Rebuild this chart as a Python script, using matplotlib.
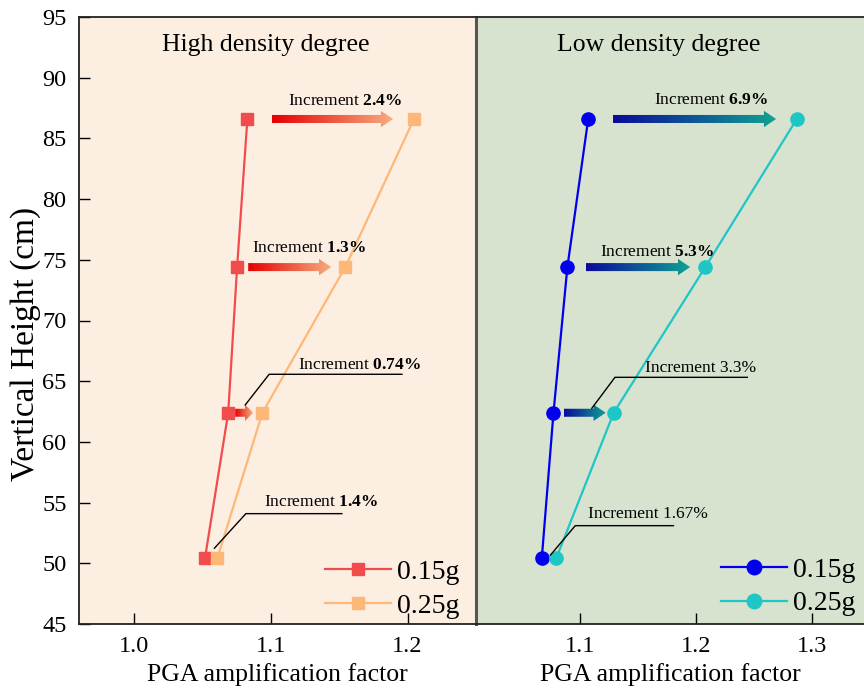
import numpy as np
import matplotlib
matplotlib.use("Agg")
import matplotlib.pyplot as plt
from matplotlib.patches import FancyArrow
from matplotlib.colors import LinearSegmentedColormap

plt.rcParams['font.family'] = ['Liberation Serif', 'DejaVu Serif']
plt.rcParams['mathtext.fontset'] = 'custom'
plt.rcParams['mathtext.rm'] = 'Liberation Serif'
plt.rcParams['mathtext.bf'] = 'Liberation Serif:bold'

# ---------------- data ----------------
heights = [50.4, 62.4, 74.4, 86.6]
high_015 = [1.052, 1.069, 1.0755, 1.083]
high_025 = [1.061, 1.094, 1.1545, 1.2047]
low_015 = [1.0668, 1.0769, 1.0889, 1.1069]
low_025 = [1.0792, 1.1289, 1.208, 1.287]

high_incr = ["1.4", "0.74", "1.3", "2.4"]
low_incr = ["1.67", "3.3", "5.3", "6.9"]
low_incr_bold = [False, False, True, True]

series_labels = ["0.15g", "0.25g"]
panel_titles = ["High density degree", "Low density degree"]
xlabel = "PGA amplification factor"
ylabel = "Vertical Height (cm)"

# annotation geometry (arrow start/end per row, label positions, leader lines)
high_arrow = {86.6: (1.1009, 1.1895), 74.4: (1.0836, 1.1443), 62.4: (1.0741, 1.0872)}
low_arrow = {86.6: (1.1283, 1.2691), 74.4: (1.1049, 1.1949), 62.4: (1.0857, 1.122)}
high_text = [(1.0955, 55.02), (1.1199, 66.33), (1.0867, 75.95), (1.1128, 88.08)]
low_text = [(1.1071, 54.06), (1.1563, 66.11), (1.1171, 75.62), (1.164, 88.16)]
high_leader = {0: [(1.0589, 51.24), (1.0819, 54.09), (1.152, 54.09)],
               1: [(1.0814, 63.04), (1.0989, 65.57), (1.1959, 65.57)]}
low_leader = {0: [(1.0743, 50.68), (1.0957, 53.1), (1.1805, 53.1)],
              1: [(1.11, 62.77), (1.13, 65.32), (1.2442, 65.32)]}

W, H = 864, 693
fig = plt.figure(figsize=(W / 100, H / 100), dpi=100)
axL = fig.add_axes([79 / W, 69 / H, (476 - 79) / W, 607 / H])
axR = fig.add_axes([476 / W, 69 / H, (W - 476) / W, 607 / H], sharey=axL)

axL.set_facecolor('#FDEEE2')
axR.set_facecolor('#D7E2CF')


def grad_arrow(ax, x0, x1, y, c0, c1, head_len):
    arrow = FancyArrow(x0, y, x1 - x0, 0, width=0.66, head_width=1.35,
                       head_length=min(head_len, (x1 - x0) * 0.45),
                       length_includes_head=True, facecolor='none',
                       edgecolor='none', zorder=3)
    ax.add_patch(arrow)
    cmap = LinearSegmentedColormap.from_list('g', [c0, c1])
    grad = np.linspace(0, 1, 256).reshape(1, -1)
    im = ax.imshow(grad, extent=[x0, x1, y - 0.7, y + 0.7], aspect='auto',
                   cmap=cmap, interpolation='bilinear', zorder=3)
    im.set_clip_path(arrow)


def panel(ax, x015, x025, c015, c025, marker, ms, arrows, texts, incr, bold,
          leaders, g0, g1, head_len, title, xlim, xticks, leg_anchor):
    ax.plot(x015, heights, color=c015, marker=marker, ms=ms, lw=1.6,
            label=series_labels[0], zorder=4)
    ax.plot(x025, heights, color=c025, marker=marker, ms=ms, lw=1.6,
            label=series_labels[1], zorder=4)
    for y, (a0, a1) in arrows.items():
        grad_arrow(ax, a0, a1, y, g0, g1, head_len)
    for i, ((tx, ty), v, b) in enumerate(zip(texts, incr, bold)):
        num = r"$\mathbf{" + v + r"\%}$" if b else v + "%"
        ax.text(tx, ty, "Increment " + num, fontsize=12.5, va='center',
                ha='left', zorder=5)
    for pts in leaders.values():
        xs, ys = zip(*pts)
        ax.plot(xs, ys, color='black', lw=1.0, zorder=5)
    ax.text(0.47, 0.954, title, transform=ax.transAxes, fontsize=18.5,
            ha='center', va='center')
    ax.set_xlim(*xlim)
    ax.set_xticks(xticks)
    ax.set_xticklabels([f"{t:.1f}" for t in xticks])
    ax.set_xlabel(xlabel, fontsize=18.5, labelpad=4)
    ax.tick_params(direction='in', labelsize=17.5, length=8, width=1, pad=9)
    ax.legend(loc='lower right', bbox_to_anchor=leg_anchor, frameon=False,
              fontsize=20, handlelength=2.4, handletextpad=0.2,
              labelspacing=0.3, borderaxespad=0.0, borderpad=0.1,
              markerscale=1.1)


panel(axL, high_015, high_025, '#F24B4B', '#FDB877', 's', 8.5, high_arrow,
      high_text, high_incr, [True] * 4, high_leader, '#E60000', '#F6AE80',
      0.009, panel_titles[0], (0.96, 1.25), [1.0, 1.1, 1.2], (0.965, 0.004))
panel(axR, low_015, low_025, '#0000EE', '#1FC6C6', 'o', 9.5, low_arrow,
      low_text, low_incr, low_incr_bold, low_leader, '#0A0A9A', '#10A393',
      0.0105, panel_titles[1], (1.01, 1.345), [1.1, 1.2, 1.3], (0.985, 0.008))

axL.set_ylim(45, 95)
axL.set_yticks(np.arange(45, 96, 5))
axL.set_ylabel(ylabel, fontsize=24)
axL.yaxis.set_label_coords(-0.095, 0.461)
axR.tick_params(axis='y', left=False, labelleft=False)

for ax in (axL, axR):
    for s in ax.spines.values():
        s.set_linewidth(1.3)
        s.set_color('#222222')
axL.spines['right'].set_visible(False)
axR.spines['right'].set_visible(False)
axR.spines['left'].set_color('#555555')
axR.spines['left'].set_linewidth(2.2)

fig.savefig("out.png", dpi=100)
